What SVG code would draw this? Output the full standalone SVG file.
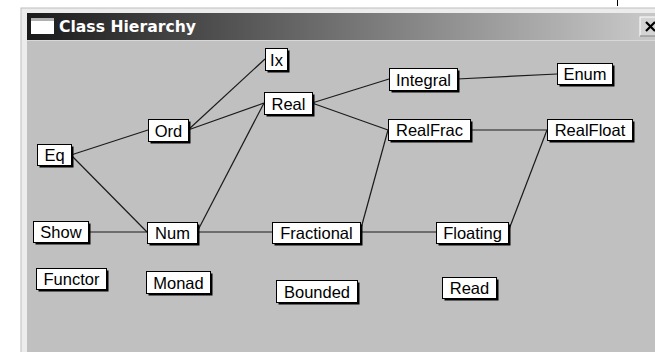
<svg xmlns="http://www.w3.org/2000/svg" width="655" height="352" viewBox="0 0 655 352">
<defs>
<linearGradient id="tb" x1="27" y1="0" x2="640" y2="0" gradientUnits="userSpaceOnUse">
<stop offset="0" stop-color="#1a1a1a"/>
<stop offset="1" stop-color="#c6c6c6"/>
</linearGradient>
<style>
.sh{fill:#000}
.bx{fill:#fff;stroke:#000;stroke-width:1}
.lb{font-family:"Liberation Sans",Arial,sans-serif;font-size:16.5px;fill:#000;text-anchor:middle}
.ed{stroke:#1a1a1a;stroke-width:1.2;fill:none}
</style>
</defs>
<rect width="655" height="352" fill="#fff"/>
<line x1="617.5" y1="0" x2="617.5" y2="6" stroke="#000"/>
<rect x="21" y="8" width="640" height="350" fill="#ececec" stroke="#bdbdbd"/>
<rect x="27" y="13" width="630" height="345" fill="#c0c0c0"/>
<rect x="27" y="13" width="630" height="27" fill="url(#tb)"/>
<rect x="27" y="40" width="630" height="1" fill="#d8d8d8"/>
<rect x="31" y="18" width="23" height="16" fill="#fff"/>
<rect x="31" y="18" width="23" height="3" fill="#b0b0b0"/>
<text x="59" y="32" font-family="'DejaVu Sans','Liberation Sans',sans-serif" font-weight="bold" font-size="15" fill="#fff" textLength="137" lengthAdjust="spacingAndGlyphs">Class Hierarchy</text>
<rect x="640" y="17" width="20" height="19" fill="#d4d4d4" stroke="#fff"/>
<line x1="640" y1="36" x2="655" y2="36" stroke="#6a6a6a"/>
<path d="M646 22 L655 31 M655 22 L646 31" stroke="#000" stroke-width="2.2"/>

<g id="connectors">
<line class="ed" x1="71" y1="155" x2="148" y2="130"/>
<line class="ed" x1="71" y1="155" x2="147" y2="232"/>
<line class="ed" x1="88" y1="232" x2="147" y2="232"/>
<line class="ed" x1="188" y1="130" x2="265" y2="59"/>
<line class="ed" x1="188" y1="130" x2="264" y2="103"/>
<line class="ed" x1="197" y1="232" x2="264" y2="103"/>
<line class="ed" x1="197" y1="232" x2="272" y2="232"/>
<line class="ed" x1="312" y1="103" x2="389" y2="79"/>
<line class="ed" x1="312" y1="103" x2="388" y2="130"/>
<line class="ed" x1="457" y1="79" x2="557" y2="74"/>
<line class="ed" x1="470" y1="130" x2="547" y2="130"/>
<line class="ed" x1="360" y1="232" x2="388" y2="130"/>
<line class="ed" x1="360" y1="232" x2="436" y2="232"/>
<line class="ed" x1="508" y1="232" x2="547" y2="130"/>
</g>

<g id="Eq"><rect class="sh" x="39.5" y="146.5" width="34" height="21"/><rect class="bx" x="37.5" y="144.5" width="34" height="21"/><text class="lb" x="54.5" y="161">Eq</text></g>
<g id="Show"><rect class="sh" x="35.5" y="223.5" width="55" height="21"/><rect class="bx" x="33.5" y="221.5" width="55" height="21"/><text class="lb" x="61" y="238">Show</text></g>
<g id="Ord"><rect class="sh" x="150.5" y="121.5" width="40" height="22"/><rect class="bx" x="148.5" y="119.5" width="40" height="22"/><text class="lb" x="168.5" y="137">Ord</text></g>
<g id="Num"><rect class="sh" x="149.5" y="224.5" width="50" height="21"/><rect class="bx" x="147.5" y="222.5" width="50" height="21"/><text class="lb" x="172.5" y="239">Num</text></g>
<g id="Ix"><rect class="sh" x="267.5" y="50.5" width="22" height="22"/><rect class="bx" x="265.5" y="48.5" width="22" height="22"/><text class="lb" x="276.5" y="66">Ix</text></g>
<g id="Real"><rect class="sh" x="266.5" y="94.5" width="48" height="22"/><rect class="bx" x="264.5" y="92.5" width="48" height="22"/><text class="lb" x="288.5" y="110">Real</text></g>
<g id="Integral"><rect class="sh" x="391.5" y="70.5" width="68" height="22"/><rect class="bx" x="389.5" y="68.5" width="68" height="22"/><text class="lb" x="423.5" y="86">Integral</text></g>
<g id="Enum"><rect class="sh" x="559.5" y="65.5" width="55" height="21"/><rect class="bx" x="557.5" y="63.5" width="55" height="21"/><text class="lb" x="585" y="80">Enum</text></g>
<g id="RealFrac"><rect class="sh" x="390.5" y="121.5" width="82" height="21"/><rect class="bx" x="388.5" y="119.5" width="82" height="21"/><text class="lb" x="429.5" y="136">RealFrac</text></g>
<g id="RealFloat"><rect class="sh" x="549.5" y="121.5" width="85" height="21"/><rect class="bx" x="547.5" y="119.5" width="85" height="21"/><text class="lb" x="590" y="136">RealFloat</text></g>
<g id="Fractional"><rect class="sh" x="274.5" y="224.5" width="88" height="21"/><rect class="bx" x="272.5" y="222.5" width="88" height="21"/><text class="lb" x="316.5" y="239">Fractional</text></g>
<g id="Floating"><rect class="sh" x="438.5" y="224.5" width="72" height="21"/><rect class="bx" x="436.5" y="222.5" width="72" height="21"/><text class="lb" x="472.5" y="239">Floating</text></g>
<g id="Functor"><rect class="sh" x="38.5" y="270.5" width="70" height="21"/><rect class="bx" x="36.5" y="268.5" width="70" height="21"/><text class="lb" x="71.5" y="285">Functor</text></g>
<g id="Monad"><rect class="sh" x="148.5" y="273.5" width="64" height="22"/><rect class="bx" x="146.5" y="271.5" width="64" height="22"/><text class="lb" x="178.5" y="289">Monad</text></g>
<g id="Bounded"><rect class="sh" x="278.5" y="282.5" width="81" height="22"/><rect class="bx" x="276.5" y="280.5" width="81" height="22"/><text class="lb" x="317" y="298">Bounded</text></g>
<g id="Read"><rect class="sh" x="444.5" y="279.5" width="54" height="21"/><rect class="bx" x="442.5" y="277.5" width="54" height="21"/><text class="lb" x="469.5" y="294">Read</text></g>
</svg>
